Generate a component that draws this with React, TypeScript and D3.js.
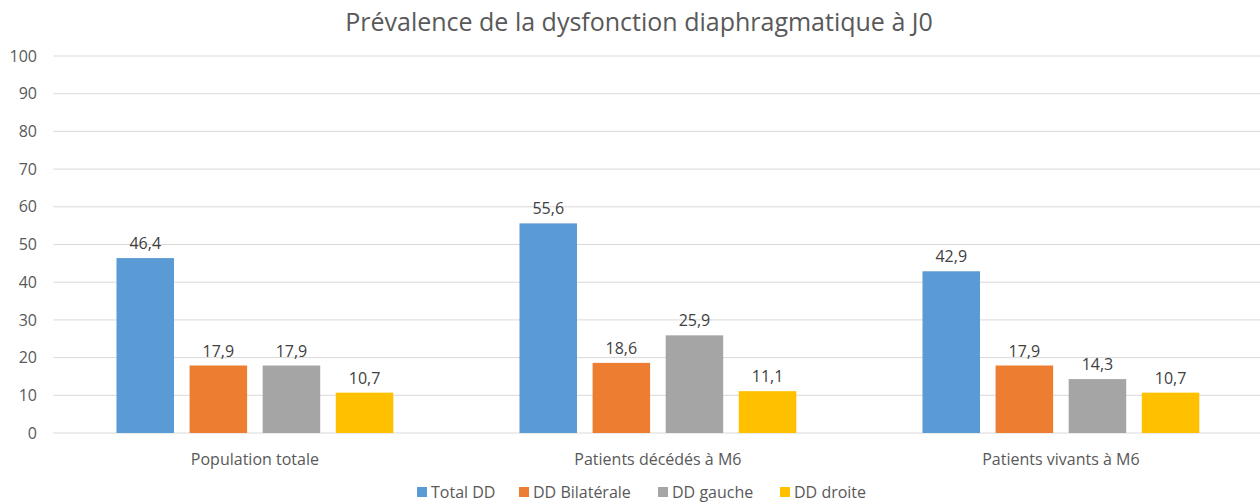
import React from 'react';
import * as d3 from 'd3';

const categories = ['Population totale', 'Patients décédés à M6', 'Patients vivants à M6'];
const seriesNames = ['Total DD', 'DD Bilatérale', 'DD gauche', 'DD droite'];
const seriesColors = ['#5b9bd5', '#ed7d31', '#a5a5a5', '#ffc000'];
const totalDD = [46.4, 55.6, 42.9];
const bilaterale = [17.9, 18.6, 17.9];
const gauche = [17.9, 25.9, 14.3];
const droite = [10.7, 11.1, 10.7];
const yTicks = [0, 10, 20, 30, 40, 50, 60, 70, 80, 90, 100];

const values = [totalDD, bilaterale, gauche, droite];
const font = '"Open Sans", sans-serif';

const App = () => {
  const width = 1260;
  const height = 504;
  const m = { t: 56, b: 71, l: 53.4 };
  const groupStep = 403;

  const x0 = d3.scaleBand<string>().domain(categories).range([m.l, m.l + groupStep * categories.length]);
  const x1 = d3
    .scaleBand<string>()
    .domain(seriesNames)
    .range([0, x0.bandwidth()])
    .paddingInner(0.213)
    .paddingOuter(0.863);
  const y = d3.scaleLinear().domain([0, 100]).range([height - m.b, m.t]);

  const fmt = (v: number) => v.toFixed(1).replace('.', ',');

  // legend swatch positions
  const legendX = [417, 519, 658, 780];

  return (
    <div style={{ position: 'absolute', left: 0, top: 0 }}>
      <svg width={width} height={height} style={{ display: 'block', background: '#fff' }}>
        <text x={639} y={31} textAnchor="middle" fontFamily={font} fontSize={25} fill="#595959">
          Prévalence de la dysfonction diaphragmatique à J0
        </text>

        {yTicks.map(t => (
          <g key={t}>
            <line x1={m.l} x2={width} y1={y(t)} y2={y(t)} stroke="#d9d9d9" strokeWidth={1} />
            <text x={37} y={y(t)} dy="0.35em" textAnchor="end" fontFamily={font} fontSize={16} fill="#595959">
              {t}
            </text>
          </g>
        ))}

        {categories.map((c, ci) => (
          <g key={c} transform={`translate(${x0(c)},0)`}>
            {seriesNames.map((s, si) => {
              const v = values[si][ci];
              const bx = x1(s)!;
              return (
                <g key={s}>
                  <rect x={bx} y={y(v)} width={x1.bandwidth()} height={y(0) - y(v)} fill={seriesColors[si]} />
                  <text
                    x={bx + x1.bandwidth() / 2}
                    y={y(v) - 9}
                    textAnchor="middle"
                    fontFamily={font}
                    fontSize={16}
                    fill="#404040"
                  >
                    {fmt(v)}
                  </text>
                </g>
              );
            })}
            <text
              x={x0.bandwidth() / 2}
              y={465}
              textAnchor="middle"
              fontFamily={font}
              fontSize={16}
              fill="#595959"
            >
              {c}
            </text>
          </g>
        ))}

        {seriesNames.map((s, si) => (
          <g key={s} transform={`translate(${legendX[si]},0)`}>
            <rect x={0} y={487} width={10} height={10} fill={seriesColors[si]} />
            <text x={14} y={498} fontFamily={font} fontSize={16} fill="#595959">
              {s}
            </text>
          </g>
        ))}
      </svg>
    </div>
  );
};

export default App;
